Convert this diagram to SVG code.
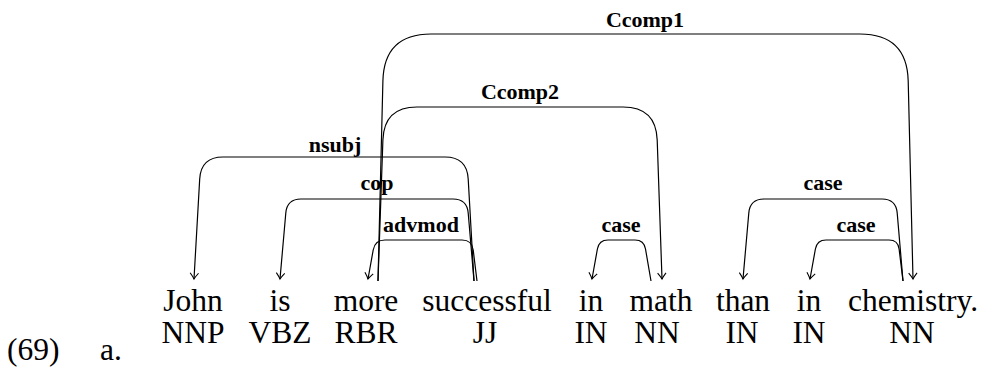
<svg xmlns="http://www.w3.org/2000/svg" width="982" height="369" viewBox="0 0 982 369">
<defs>
<style>
.w{font-size:31.5px;text-anchor:middle}
.n{font-size:31.5px}
.l{font-size:22px;font-weight:bold;text-anchor:middle}
.a{fill:none;stroke:#000;stroke-width:1.2;marker-end:url(#ar)}
</style>
<marker id="ar" markerUnits="userSpaceOnUse" markerWidth="12" markerHeight="12" viewBox="-8 -6 10 12" refX="0" refY="0" orient="auto">
<path d="M-6,-4.2 Q-2,-1 0,0 Q-2,1 -6,4.2" fill="none" stroke="#000" stroke-width="1.1"/>
</marker>
</defs>
<rect width="982" height="369" fill="#fff"/>
<g font-family="Liberation Serif, serif" fill="#000">
<g id="example-number">
<text class="n" x="7" y="360">(69)</text>
<text class="n" x="100" y="360">a.</text>
</g>
<g id="w1"><text class="w" x="193" y="311">John</text><text class="w" x="193" y="343">NNP</text></g>
<g id="w2"><text class="w" x="280" y="311">is</text><text class="w" x="280" y="343">VBZ</text></g>
<g id="w3"><text class="w" x="366" y="311">more</text><text class="w" x="366" y="343">RBR</text></g>
<g id="w4"><text class="w" x="487" y="311">successful</text><text class="w" x="485" y="343">JJ</text></g>
<g id="w5"><text class="w" x="591" y="311">in</text><text class="w" x="591" y="343">IN</text></g>
<g id="w6"><text class="w" x="661" y="311">math</text><text class="w" x="657" y="343">NN</text></g>
<g id="w7"><text class="w" x="743" y="311">than</text><text class="w" x="742" y="343">IN</text></g>
<g id="w8"><text class="w" x="809" y="311">in</text><text class="w" x="809" y="343">IN</text></g>
<g id="w9"><text class="w" x="913" y="311">chemistry.</text><text class="w" x="912" y="343">NN</text></g>
<g id="connectors">
<g id="e-nsubj"><path class="a" d="M474,281 L468.2,179 Q467,157 445,157 L223,157 Q201,157 199.7,179 L194,279"/><text class="l" x="335" y="152">nsubj</text></g>
<g id="e-cop"><path class="a" d="M474,281 L468.2,213 Q467,199 453,199 L301,199 Q287,199 285.8,213 L280,279"/><text class="l" x="377" y="190">cop</text></g>
<g id="e-advmod"><path class="a" d="M477,281 L473.2,250 Q472,240 462,240 L385,240 Q375,240 373.2,250 L368,279"/><text class="l" x="421" y="232">advmod</text></g>
<g id="e-ccomp1"><path class="a" d="M378,281 L382.9,81 Q384,34 431,34 L860,34 Q907,34 908.2,81 L913,279"/><text class="l" x="645" y="27">Ccomp1</text></g>
<g id="e-ccomp2"><path class="a" d="M378,281 L382.9,140 Q384,107 417,107 L623,107 Q656,107 657.2,140 L662,279"/><text class="l" x="520" y="99">Ccomp2</text></g>
<g id="e-case1"><path class="a" d="M651,281 L645.5,249 Q644,240 635,240 L608,240 Q599,240 597.4,249 L592,279"/><text class="l" x="621" y="232">case</text></g>
<g id="e-case2"><path class="a" d="M903,281 L897.2,213 Q896,199 882,199 L764,199 Q750,199 748.8,213 L743,279"/><text class="l" x="823" y="190">case</text></g>
<g id="e-case3"><path class="a" d="M903,281 L899.1,249 Q898,240 889,240 L826,240 Q817,240 815.4,249 L810,279"/><text class="l" x="856" y="232">case</text></g>
</g>
</g>
</svg>
